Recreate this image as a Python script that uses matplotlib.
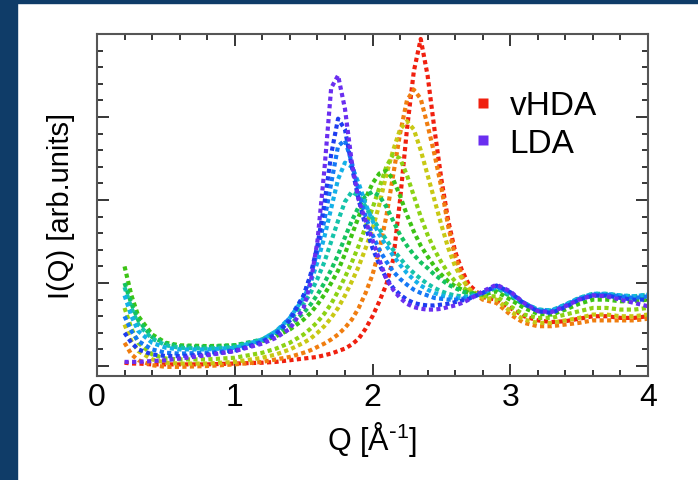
import matplotlib
matplotlib.use("Agg")
import matplotlib.pyplot as plt
from matplotlib.lines import Line2D
from matplotlib.patches import Rectangle
from matplotlib.ticker import MultipleLocator, NullFormatter

plt.rcParams['font.family'] = ['Liberation Sans', 'DejaVu Sans']
plt.rcParams['mathtext.default'] = 'regular'

# Q grid shared by all curves (1/Angstrom)
q = [0.20, 0.25, 0.30, 0.40, 0.50, 0.60, 0.80, 1.00,
     1.20, 1.30, 1.40, 1.50, 1.55, 1.60, 1.65, 1.70, 1.75, 1.80, 1.85,
     1.90, 1.95, 2.00, 2.05, 2.10, 2.15, 2.20, 2.25, 2.30, 2.35,
     2.40, 2.45, 2.50, 2.55, 2.60, 2.65, 2.70, 2.80, 2.90,
     3.00, 3.10, 3.20, 3.30, 3.40, 3.50, 3.60, 3.70, 3.80, 3.90, 4.00]

# I(Q), from vHDA (red) to LDA (purple)
i_vhda = [0.04, 0.03, 0.03, 0.02, 0.02, 0.02, 0.02, 0.03,
          0.04, 0.05, 0.07, 0.09, 0.10, 0.11, 0.13, 0.15, 0.18, 0.21, 0.26,
          0.33, 0.45, 0.60, 0.78, 0.98, 1.28, 2.00, 2.85, 3.55, 3.94,
          3.50, 2.85, 2.25, 1.75, 1.38, 1.15, 0.98, 0.83, 0.80,
          0.70, 0.60, 0.55, 0.53, 0.54, 0.57, 0.60, 0.60, 0.58, 0.58, 0.60]
i_orange = [0.28, 0.14, 0.07, 0.01, -0.01, -0.01, 0.00, 0.02,
            0.05, 0.08, 0.11, 0.16, 0.19, 0.23, 0.27, 0.32, 0.38, 0.46, 0.56,
            0.70, 0.88, 1.10, 1.40, 1.80, 2.30, 2.80, 3.20, 3.33, 3.22,
            2.90, 2.55, 2.15, 1.68, 1.32, 1.08, 0.93, 0.80, 0.76,
            0.62, 0.52, 0.48, 0.48, 0.50, 0.52, 0.55, 0.55, 0.55, 0.55, 0.57]
i_yellow = [0.50, 0.30, 0.18, 0.08, 0.04, 0.03, 0.03, 0.05,
            0.10, 0.14, 0.20, 0.28, 0.33, 0.40, 0.48, 0.58, 0.70, 0.85, 1.02,
            1.20, 1.42, 1.65, 1.95, 2.30, 2.60, 2.85, 2.95, 2.85, 2.60,
            2.30, 2.00, 1.70, 1.42, 1.20, 1.05, 0.93, 0.82, 0.80,
            0.66, 0.56, 0.52, 0.52, 0.55, 0.58, 0.62, 0.62, 0.60, 0.60, 0.62]
i_ygreen = [0.70, 0.45, 0.28, 0.14, 0.09, 0.08, 0.08, 0.10,
            0.16, 0.21, 0.28, 0.38, 0.45, 0.53, 0.63, 0.75, 0.90, 1.07, 1.25,
            1.45, 1.68, 1.90, 2.15, 2.40, 2.55, 2.50, 2.30, 2.05, 1.80,
            1.58, 1.40, 1.25, 1.12, 1.02, 0.95, 0.90, 0.84, 0.84,
            0.72, 0.62, 0.58, 0.58, 0.62, 0.66, 0.70, 0.70, 0.68, 0.68, 0.70]
i_green = [1.20, 0.85, 0.60, 0.38, 0.28, 0.25, 0.24, 0.25,
           0.30, 0.36, 0.44, 0.56, 0.64, 0.74, 0.86, 1.00, 1.15, 1.35, 1.58,
           1.80, 2.02, 2.20, 2.32, 2.35, 2.25, 2.05, 1.82, 1.62, 1.45,
           1.32, 1.20, 1.10, 1.02, 0.96, 0.92, 0.88, 0.86, 0.90,
           0.80, 0.70, 0.63, 0.62, 0.68, 0.75, 0.80, 0.80, 0.78, 0.78, 0.80]
i_gteal = [1.00, 0.75, 0.55, 0.35, 0.27, 0.24, 0.23, 0.25,
           0.32, 0.40, 0.50, 0.64, 0.74, 0.86, 1.00, 1.16, 1.34, 1.55, 1.75,
           1.92, 2.05, 2.10, 2.05, 1.92, 1.75, 1.58, 1.45, 1.34, 1.25,
           1.18, 1.10, 1.04, 0.98, 0.94, 0.90, 0.87, 0.88, 0.94,
           0.84, 0.74, 0.67, 0.66, 0.72, 0.80, 0.85, 0.85, 0.83, 0.82, 0.84]
i_teal = [0.95, 0.70, 0.50, 0.33, 0.25, 0.22, 0.21, 0.23,
          0.32, 0.42, 0.55, 0.75, 0.88, 1.05, 1.25, 1.50, 1.75, 1.98, 2.10,
          2.05, 1.92, 1.78, 1.65, 1.52, 1.40, 1.30, 1.20, 1.12, 1.05,
          0.99, 0.94, 0.90, 0.87, 0.85, 0.84, 0.84, 0.88, 0.95,
          0.86, 0.76, 0.68, 0.67, 0.74, 0.82, 0.87, 0.87, 0.85, 0.84, 0.86]
i_cyan = [0.85, 0.60, 0.42, 0.28, 0.22, 0.20, 0.20, 0.22,
          0.32, 0.42, 0.58, 0.82, 1.00, 1.25, 1.55, 1.90, 2.25, 2.45, 2.40,
          2.20, 1.95, 1.75, 1.58, 1.45, 1.33, 1.22, 1.12, 1.04, 0.97,
          0.92, 0.88, 0.85, 0.83, 0.82, 0.82, 0.83, 0.88, 0.96,
          0.87, 0.76, 0.68, 0.67, 0.74, 0.82, 0.87, 0.87, 0.85, 0.84, 0.86]
i_lblue = [0.60, 0.42, 0.30, 0.20, 0.16, 0.15, 0.16, 0.19,
           0.30, 0.40, 0.58, 0.85, 1.08, 1.38, 1.75, 2.20, 2.65, 2.72, 2.45,
           2.10, 1.80, 1.58, 1.40, 1.26, 1.14, 1.05, 0.98, 0.92, 0.88,
           0.85, 0.82, 0.81, 0.80, 0.80, 0.81, 0.82, 0.88, 0.96,
           0.88, 0.76, 0.67, 0.66, 0.73, 0.81, 0.86, 0.86, 0.84, 0.82, 0.84]
i_blue = [0.40, 0.28, 0.20, 0.14, 0.12, 0.12, 0.14, 0.18,
          0.29, 0.38, 0.55, 0.85, 1.10, 1.45, 1.95, 2.55, 2.98, 2.85, 2.40,
          2.00, 1.68, 1.42, 1.22, 1.06, 0.94, 0.86, 0.80, 0.76, 0.74,
          0.73, 0.73, 0.74, 0.75, 0.77, 0.79, 0.81, 0.88, 0.97,
          0.89, 0.75, 0.66, 0.64, 0.71, 0.80, 0.85, 0.85, 0.82, 0.80, 0.80]
i_lda = [0.05, 0.05, 0.05, 0.06, 0.07, 0.09, 0.13, 0.18,
         0.27, 0.34, 0.45, 0.70, 1.00, 1.50, 2.35, 3.35, 3.50, 3.10, 2.45,
         2.00, 1.75, 1.52, 1.28, 1.05, 0.92, 0.82, 0.75, 0.71, 0.69,
         0.68, 0.68, 0.69, 0.71, 0.73, 0.76, 0.80, 0.90, 0.98,
         0.90, 0.76, 0.66, 0.65, 0.72, 0.80, 0.85, 0.84, 0.80, 0.76, 0.72]

curves = [i_vhda, i_orange, i_yellow, i_ygreen, i_green, i_gteal,
          i_teal, i_cyan, i_lblue, i_blue, i_lda]
colors = ['#f0200f', '#f07d0f', '#c8c814', '#8cd214', '#3cc314', '#14c35f',
          '#14c3aa', '#14b0e8', '#1478f5', '#1e3cf0', '#6a2ef0']
legend_names = ['vHDA', 'LDA']

fig = plt.figure(figsize=(6.98, 4.81), dpi=100)
fig.patch.set_facecolor('white')
# navy frame on the left and top
fig.patches.append(Rectangle((0, 0), 17 / 698, 1, transform=fig.transFigure,
                             color='#0f3c68', zorder=0))
fig.patches.append(Rectangle((0, 1 - 4 / 481), 1, 4 / 481, transform=fig.transFigure,
                             color='#0f3c68', zorder=0))

ax = fig.add_axes([97 / 698, 1 - 377 / 481, 551 / 698, 342 / 481])

for vals, c in zip(curves, colors):
    ax.plot(q, vals, color=c, lw=3.0, linestyle=(0, (1.0, 0.8)),
            dash_capstyle='butt')

ax.set_xlim(0, 4)
ax.set_ylim(-0.12, 4.0)
ax.xaxis.set_major_locator(MultipleLocator(1))
ax.xaxis.set_minor_locator(MultipleLocator(0.2))
ax.yaxis.set_major_locator(MultipleLocator(1))
ax.yaxis.set_minor_locator(MultipleLocator(0.2))
ax.yaxis.set_major_formatter(NullFormatter())
ax.tick_params(which='both', direction='in', top=True, right=True, width=1.1,
               color='black')
ax.tick_params(which='major', length=8.5, labelsize=23, pad=4)
ax.tick_params(which='minor', length=4.3)
for s in ax.spines.values():
    s.set_color('#555555')
    s.set_linewidth(1.5)

ax.set_xlabel(r'Q [Å$^{\text{-}1}$]', fontsize=22)
ax.set_ylabel('I(Q) [arb.units]', fontsize=21)
ax.xaxis.set_label_coords(0.5, -0.125)
ax.yaxis.set_label_coords(-0.04, 0.5)

handles = [Line2D([], [], ls='none', marker='s', ms=6.5, color=colors[0], mec='none'),
           Line2D([], [], ls='none', marker='s', ms=6.5, color=colors[-1], mec='none')]
ax.legend(handles, legend_names, loc='center left', bbox_to_anchor=(0.652, 0.735),
          frameon=False, fontsize=24, handlelength=0.6, handletextpad=0.5,
          labelspacing=0.2, borderpad=0)

fig.savefig('out.png', dpi=100)
